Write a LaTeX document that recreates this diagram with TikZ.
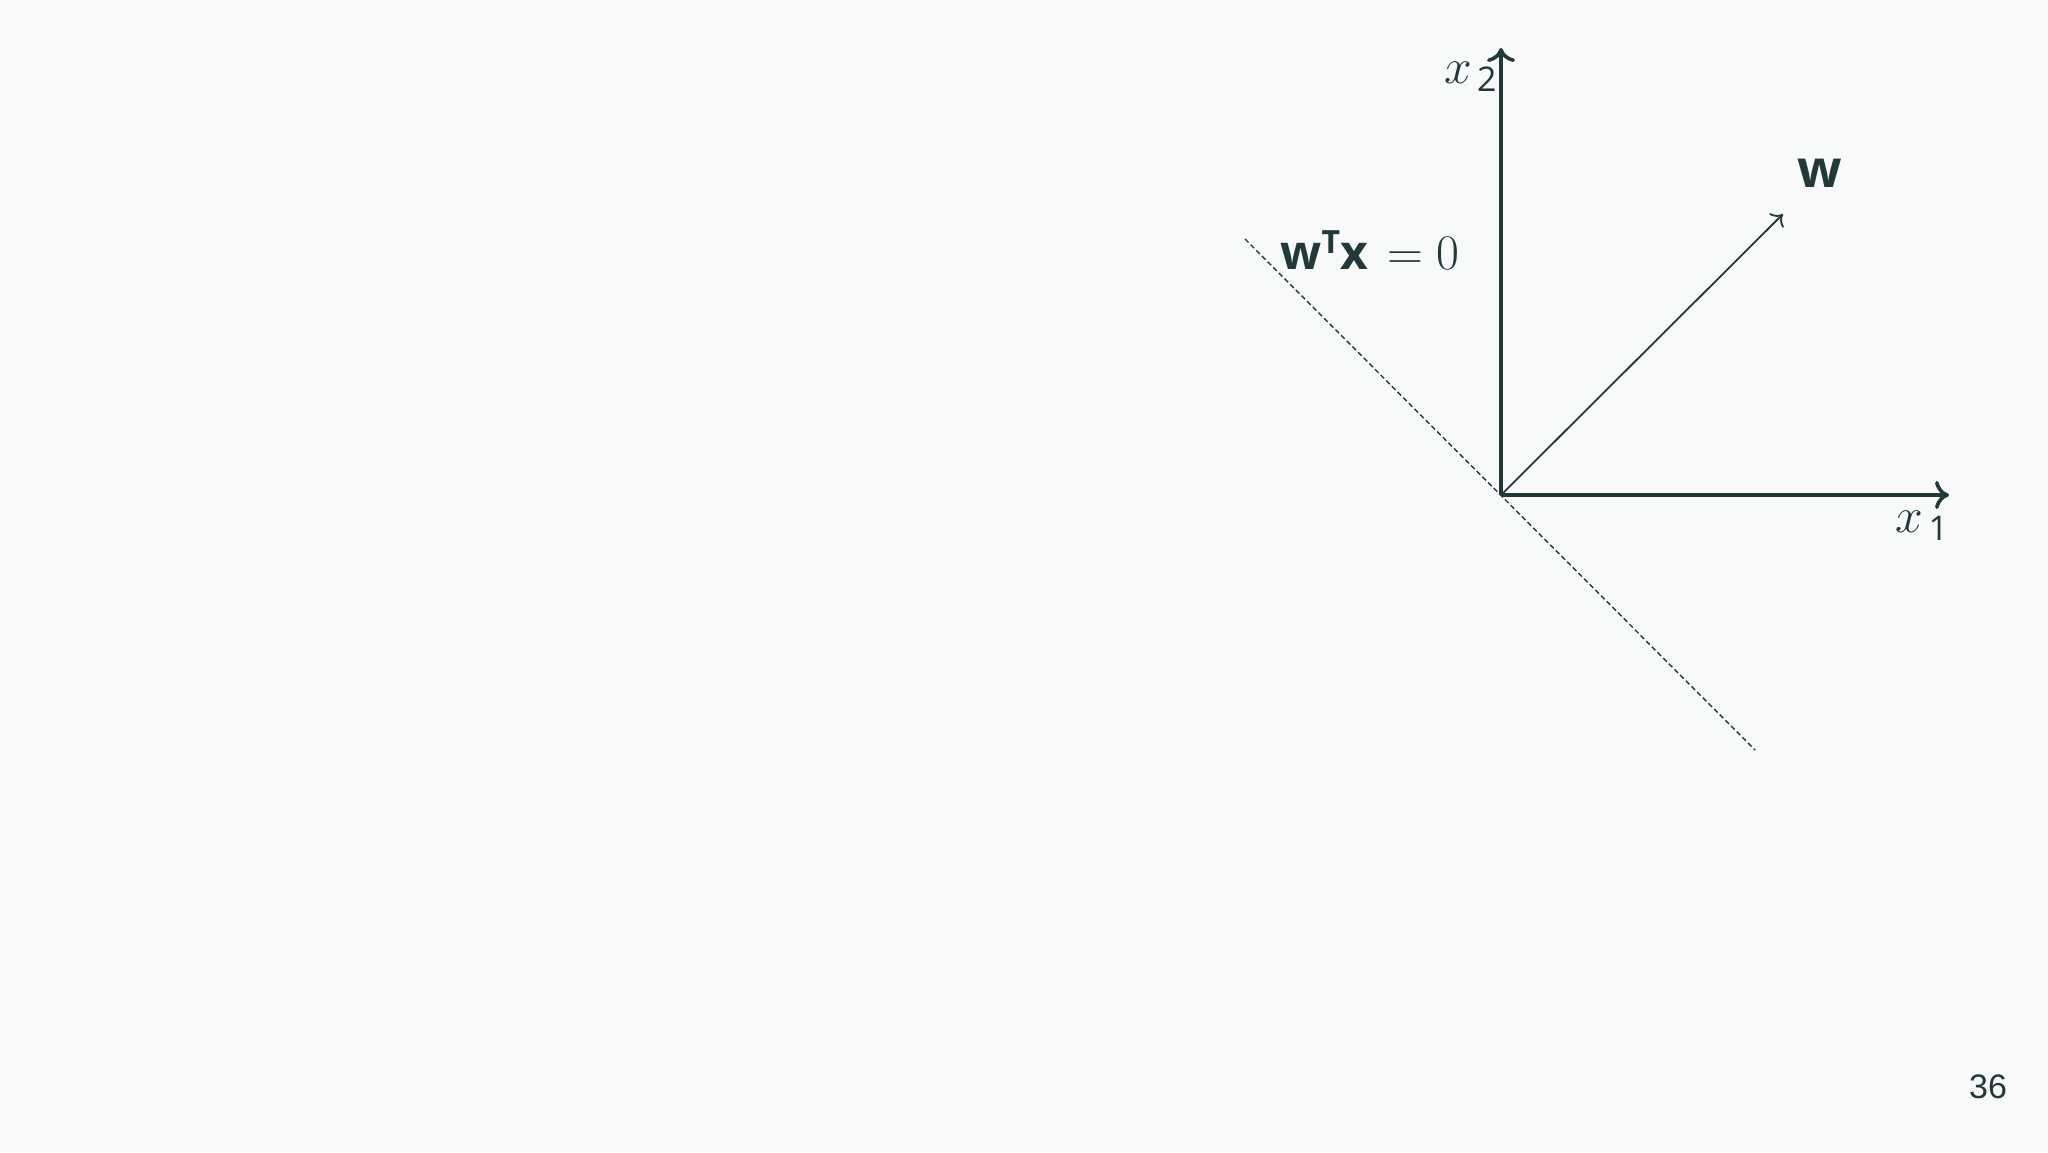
\documentclass[tikz,border=0pt]{standalone}
\usepackage{amsmath}
\usepackage{fontspec}
\setsansfont{Open Sans}
\newfontfamily\pgnumfont{Liberation Sans}
\usetikzlibrary{arrows.meta}
\definecolor{ink}{HTML}{22393A}
\definecolor{bg}{HTML}{F8F9F9}
\tikzset{
  axis/.style={draw=ink, line width=2pt, -{To[length=7pt,width=14pt,line width=1.8pt]}},
  vec/.style={draw=ink, line width=0.9pt, -{To[length=5pt,width=10pt,line width=0.9pt]}},
  hyper/.style={draw=ink, line width=0.7pt, dash pattern=on 2.5pt off 1.5pt},
  lab/.style={text=ink, inner sep=0pt},
}
\newcommand\bsfv[1]{\textsf{\bfseries #1}}
\newcommand\axlab[1]{$x$\hspace{2.5pt}\raisebox{-4pt}{\fontsize{17}{20}\selectfont\textsf{#1}}}
\begin{document}
\begin{tikzpicture}[x=0.5pt,y=-0.5pt]
\fill[bg] (0,0) rectangle (2048,1152);
\useasboundingbox (0,0) rectangle (2048,1152);
\coordinate (O) at (1501,495);
\coordinate (X1) at (1949,495);
\coordinate (X2) at (1501,48);
\coordinate (W) at (1783,214);
\coordinate (HA) at (1245,239);
\coordinate (HB) at (1755,750);
\draw[hyper] (HA) -- (HB);
\draw[axis] (O) -- (X1);
\draw[axis] (O) -- (X2);
\draw[vec] (O) -- (W);
\node[lab, anchor=east, font=\fontsize{27}{30}\selectfont] (lx2) at (1497,77) {\axlab{2}};
\node[lab, font=\fontsize{27}{30}\selectfont] (lx1) at (1922,526) {\axlab{1}};
\node[lab, font=\fontsize{26}{30}\selectfont] (lw) at (1820,173) {\bsfv{w}};
\node[lab, font=\fontsize{29}{32}\selectfont] (lh) at (1370,250) {$\text{\fontsize{24}{28}\selectfont\bsfv{w}\raisebox{8pt}{\fontsize{16}{18}\selectfont\bsfv{T}}\bsfv{x}}\mkern2mu=0$};
\node[lab, font=\pgnumfont\fontsize{17}{20}\selectfont] (pg) at (1988,1087) {36};
\end{tikzpicture}
\end{document}
